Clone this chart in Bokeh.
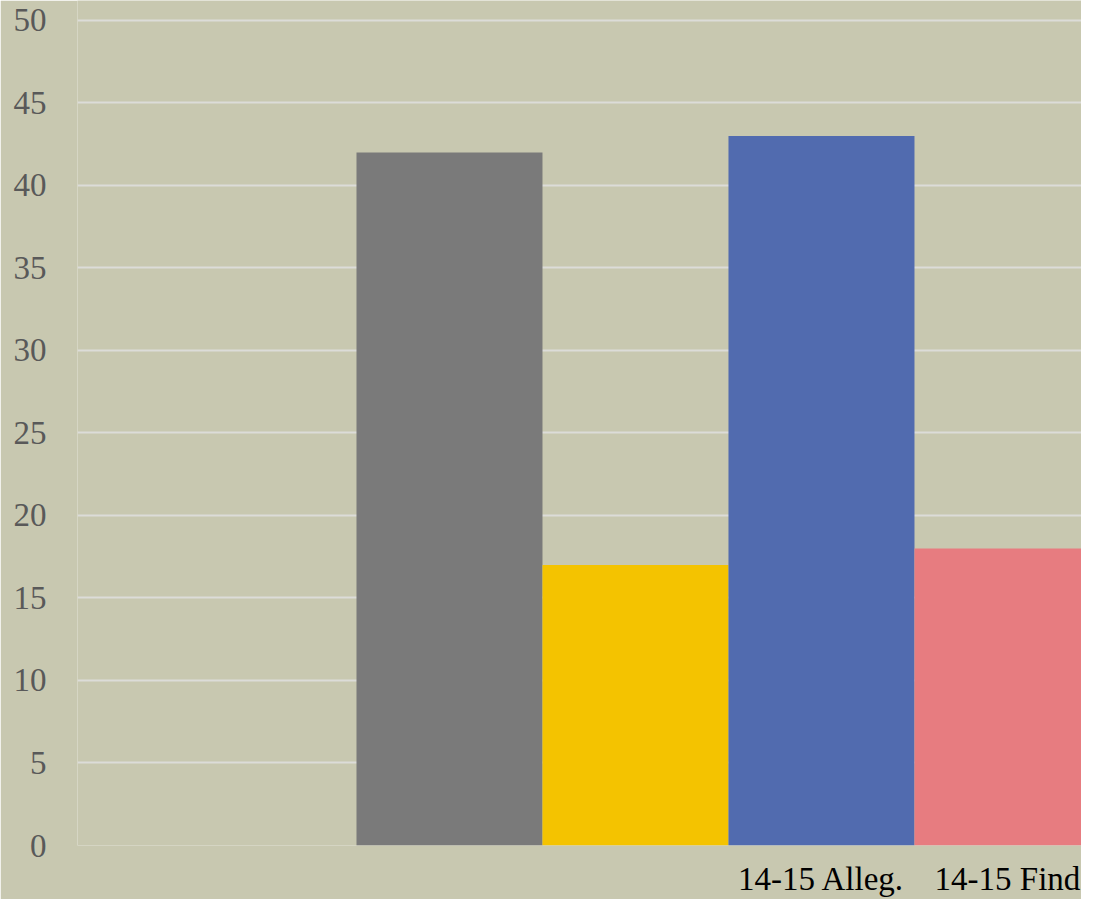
from bokeh.plotting import figure
from bokeh.models import Range1d, FixedTicker, SingleIntervalTicker, ColumnDataSource
from bokeh.embed import file_html
from bokeh.resources import INLINE

# Data
labels = ["", "", "14-15 Alleg.", "14-15 Find"]
values = [42, 17, 43, 18]
colors = ["#7A7A7A", "#F4C300", "#516BAF", "#E77C80"]
y_ticks_step = 5

BG = "#C8C8B0"
positions = list(range(len(values)))

src = ColumnDataSource(dict(x=positions, top=values, color=colors))

p = figure(width=1081, height=899, output_backend="svg", toolbar_location=None,
           x_range=Range1d(-2.0, 3.398), y_range=Range1d(0, 51.21),
           background_fill_color=BG, border_fill_color=BG,
           min_border_left=77, min_border_right=0, min_border_top=0, min_border_bottom=51)
p.outline_line_color = None

p.vbar(x="x", top="top", width=1.0, bottom=0, fill_color="color", line_color=None, source=src)

# grid
p.xgrid.grid_line_color = None
p.ygrid.grid_line_color = "#DCDCD8"
p.ygrid.grid_line_width = 2
p.ygrid.ticker = SingleIntervalTicker(interval=y_ticks_step)

# y axis
p.yaxis.ticker = SingleIntervalTicker(interval=y_ticks_step)
p.yaxis.axis_line_color = None
p.yaxis.major_tick_line_color = None
p.yaxis.minor_tick_line_color = None
p.yaxis.major_label_text_font = "Liberation Serif"
p.yaxis.major_label_text_font_size = "33px"
p.yaxis.major_label_text_color = "#595959"
p.yaxis.major_label_standoff = 25

# x axis
tick_pos = [i for i, l in enumerate(labels) if l]
p.xaxis.ticker = FixedTicker(ticks=tick_pos)
p.xaxis.major_label_overrides = {i: labels[i] for i in tick_pos}
p.xaxis.axis_line_color = None
p.xaxis.major_tick_line_color = None
p.xaxis.minor_tick_line_color = None
p.xaxis.major_label_text_font = "Liberation Serif"
p.xaxis.major_label_text_font_size = "33px"
p.xaxis.major_label_text_color = "#000000"
p.xaxis.major_label_standoff = 9

open("out.html", "w").write(file_html(p, INLINE))
